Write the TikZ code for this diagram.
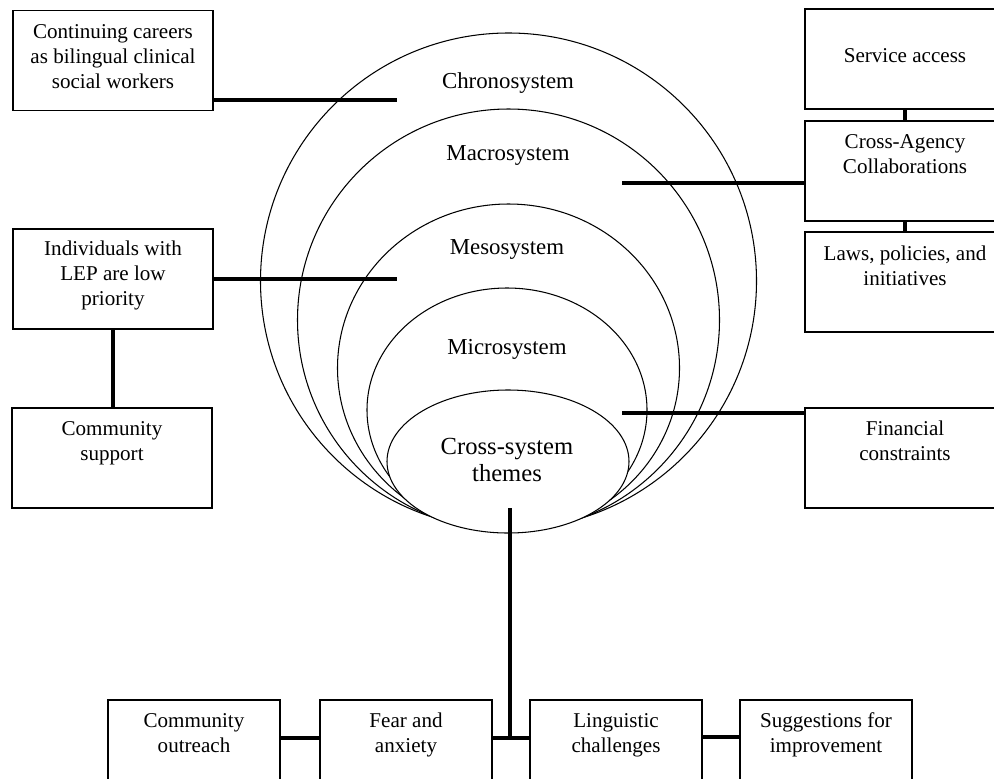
\documentclass[tikz,border=0pt]{standalone}
\usepackage{fontspec}
\setmainfont{Liberation Serif}
\begin{document}
\begin{tikzpicture}[x=0.02cm,y=-0.02cm,
  box/.style={draw, line width=0.7pt, minimum width=4cm, minimum height=2cm, inner sep=0pt},
  bbox/.style={box, minimum width=3.44cm},
  txt/.style={align=center, inner sep=0pt, font=\fontsize{12}{14.2}\selectfont, anchor=base},
  sys/.style={align=center, inner sep=0pt, font=\fontsize{13}{15}\selectfont, anchor=base},
  orb/.style={draw, fill=white, line width=0.6pt},
  conn/.style={line width=2.3pt}]
\useasboundingbox (0,0) rectangle (994,778);
\clip (0,0) rectangle (994,778);
% nested systems
\draw[orb] (508.5,281) ellipse [x radius=248*0.02cm, y radius=248*0.02cm];
\draw[orb] (508.5,320) ellipse [x radius=211*0.02cm, y radius=211*0.02cm];
\draw[orb] (508.5,368) ellipse [x radius=171*0.02cm, y radius=164*0.02cm];
\draw[orb] (507,410) ellipse [x radius=140*0.02cm, y radius=122*0.02cm];
\draw[orb] (508,461.5) ellipse [x radius=121*0.02cm, y radius=71.5*0.02cm];
\node[sys] (chrono) at (508,88) {Chronosystem};
\node[sys] (macro) at (508,160) {Macrosystem};
\node[sys] (meso) at (507,254) {Mesosystem};
\node[sys] (micro) at (507,354) {Microsystem};
\node[sys, font=\fontsize{14}{15.3}\selectfont] (cst) at (507,481) {Cross-system\\themes};
% boxes
\node[box] (cont) at (113,60.5) {};
\node[box] (lep) at (113,279) {};
\node[box] (comm) at (112,458) {};
\node[box] (svc) at (905,59) {};
\node[box] (collab) at (905,171) {};
\node[box] (laws) at (905,282) {};
\node[box] (fin) at (905,458) {};
\node[bbox] (outr) at (194,750) {};
\node[bbox] (fear) at (406,750) {};
\node[bbox] (ling) at (616,750) {};
\node[bbox] (sugg) at (826,750) {};
% box texts (anchored at the baseline of the last line)
\node[txt] (tcont) at (113,88) {Continuing careers\\as bilingual clinical\\social workers};
\node[txt] (tlep) at (113,305) {Individuals with\\LEP are low\\priority};
\node[txt] (tcomm) at (112,460) {Community\\support};
\node[txt] (tsvc) at (905,62) {Service access};
\node[txt] (tcollab) at (905,173) {Cross-Agency\\Collaborations};
\node[txt] (tlaws) at (905,285) {Laws, policies, and\\initiatives};
\node[txt] (tfin) at (905,460) {Financial\\constraints};
\node[txt] (toutr) at (194,752) {Community\\outreach};
\node[txt] (tfear) at (406,752) {Fear and\\anxiety};
\node[txt] (tling) at (616,752) {Linguistic\\challenges};
\node[txt] (tsugg) at (826,752) {Suggestions for\\improvement};
% connectors
\coordinate (c1) at (397,100);
\coordinate (c2) at (397,279);
\coordinate (c3) at (622,183);
\coordinate (c4) at (622,413);
\coordinate (c5) at (510,508);
\coordinate (j) at (510,738);
\coordinate (k) at (700,737);
\draw[conn] (c1 -| cont.east) -- (c1);
\draw[conn] (lep.east) -- (c2);
\draw[conn] (lep.south) -- (lep.south |- comm.north);
\draw[conn] (c3) -- (c3 -| collab.west);
\draw[conn] (c4) -- (c4 -| fin.west);
\draw[conn] (svc.south) -- (collab.north);
\draw[conn] (collab.south) -- (laws.north);
\draw[conn] (c5) -- (j);
\draw[conn] (fear.east |- j) -- (ling.west |- j);
\draw[conn] (outr.east |- j) -- (fear.west |- j);
\draw[conn] (ling.east |- k) -- (sugg.west |- k);
\end{tikzpicture}
\end{document}
